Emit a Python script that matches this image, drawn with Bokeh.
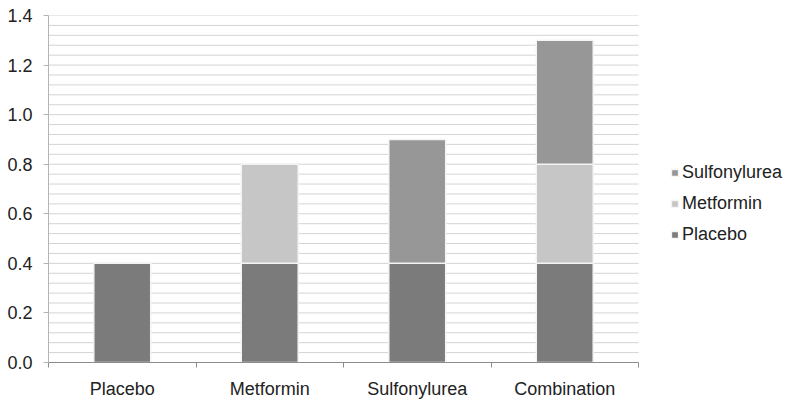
from bokeh.plotting import figure
from bokeh.models import (ColumnDataSource, FixedTicker, Legend, LegendItem,
                          Range1d, LinearAxis)
from bokeh.embed import file_html
from bokeh.resources import INLINE

# Treatment groups along the x axis
categories = ["Placebo", "Metformin", "Sulfonylurea", "Combination"]

# Stacked components per group
placebo = [0.4, 0.4, 0.4, 0.4]
metformin = [0.0, 0.4, 0.0, 0.4]
sulfonylurea = [0.0, 0.0, 0.5, 0.5]

series = ["Placebo", "Metformin", "Sulfonylurea"]
colors = ["#7b7b7b", "#c6c6c6", "#979797"]

y_ticks = [0.0, 0.2, 0.4, 0.6, 0.8, 1.0, 1.2, 1.4]
grid_lines = [round(0.04 * i, 2) for i in range(1, 36)]

n = len(categories)
xs = [i + 0.5 for i in range(n)]
source = ColumnDataSource(dict(x=xs, Placebo=placebo, Metformin=metformin,
                               Sulfonylurea=sulfonylurea))

FONT = "Liberation Sans"
TEXT = "#222222"

# The frame runs to the right edge so the legend can sit beside the bars;
# the bar area itself occupies 590 of the 740 frame pixels.
W, LEFT, BAR_AREA = 788, 48, 590
x_end = n * (W - LEFT) / BAR_AREA

p = figure(width=W, height=401, output_backend="svg", toolbar_location=None,
           x_range=Range1d(0, x_end), y_range=Range1d(0, 1.4),
           min_border_left=LEFT, min_border_right=0, min_border_top=15,
           min_border_bottom=34, x_axis_type=None)
p.outline_line_color = None
p.background_fill_color = "white"
p.border_fill_color = "white"

# Fine horizontal grid lines limited to the bar area
p.xgrid.visible = False
p.ygrid.visible = False
p.segment(x0=0, x1=n, y0=grid_lines, y1=grid_lines,
          line_color="#d4d4d4", line_width=1)

renderers = p.vbar_stack(series, x="x", width=0.386, source=source,
                         fill_color=colors, line_color="#f4f4f4",
                         line_width=1.5)

# y axis
yax = p.yaxis[0]
yax.ticker = FixedTicker(ticks=y_ticks)
yax.major_label_overrides = {t: f"{t:.1f}" for t in y_ticks}
yax.axis_line_color = "#b4b4b4"
yax.major_tick_line_color = "#b4b4b4"
yax.major_tick_out = 5
yax.major_tick_in = 0
yax.minor_tick_line_color = None
yax.major_label_standoff = 11
yax.major_label_text_font = FONT
yax.major_label_text_font_size = "18px"
yax.major_label_text_color = TEXT

# x axis: labels at group centres, tick marks at group boundaries
xax = LinearAxis(ticker=FixedTicker(ticks=xs, minor_ticks=list(range(n + 1))),
                 bounds=(0, n))
xax.major_label_overrides = {x: c for x, c in zip(xs, categories)}
xax.axis_line_color = "#8c8c8c"
xax.major_tick_line_color = None
xax.major_tick_out = 0
xax.major_tick_in = 0
xax.minor_tick_line_color = "#8c8c8c"
xax.minor_tick_out = 5
xax.minor_tick_in = 0
xax.major_label_standoff = 11
xax.major_label_text_font = FONT
xax.major_label_text_font_size = "18px"
xax.major_label_text_color = TEXT
p.add_layout(xax, "below")

# Legend to the right of the bars, top entry first
items = [LegendItem(label=name, renderers=[r])
         for name, r in zip(series, renderers)][::-1]
legend = Legend(items=items, location=(622, 117), orientation="vertical",
                border_line_color=None, background_fill_alpha=0,
                padding=0, margin=0, spacing=10, label_height=21,
                glyph_width=9, glyph_height=9, label_standoff=3,
                label_text_font=FONT, label_text_font_size="18px",
                label_text_color=TEXT)
p.add_layout(legend, "center")

open("out.html", "w").write(file_html(p, INLINE))
